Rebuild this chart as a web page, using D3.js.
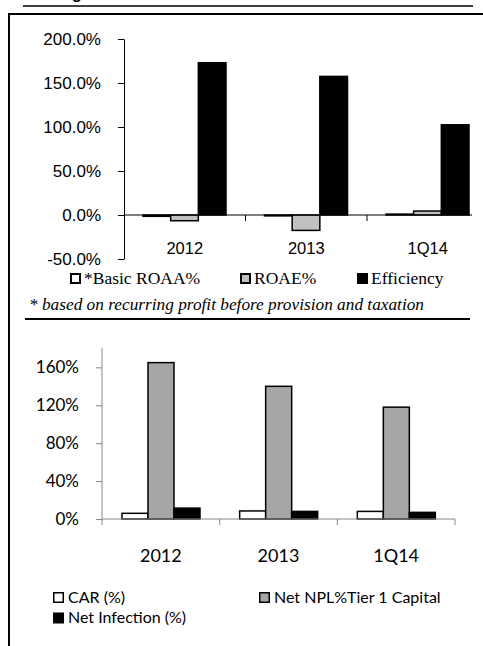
<!DOCTYPE html>
<html>
<head>
<meta charset="utf-8">
<script src="https://cdn.jsdelivr.net/npm/d3@7"></script>
<style>
  body { margin: 0; background: #fff; }
  svg { display: block; }
</style>
</head>
<body>
<svg id="chart" width="483" height="646"></svg>
<script>
// top chart data
var topCategories = ["2012", "2013", "1Q14"];
var topSeries = ["*Basic ROAA%", "ROAE%", "Efficiency"];
var roaa = [-1.5, -1, 1];
var roae = [-6.5, -17.5, 4.5];
var efficiency = [173, 157.5, 102.5];
var topTicks = [-50, 0, 50, 100, 150, 200];

// bottom chart data
var botCategories = ["2012", "2013", "1Q14"];
var botSeries = ["CAR (%)", "Net NPL%Tier 1 Capital", "Net Infection (%)"];
var car = [6, 8.5, 8];
var netNpl = [165, 140, 118];
var netInfection = [11.5, 8, 7];
var botTicks = [0, 40, 80, 120, 160];

var SANS = "'Liberation Sans'";
var SERIF = "'Liberation Serif'";
var CAL = "'Lato'";

var svg = d3.select("#chart");

// frame lines
svg.append("text").attr("x", 72).attr("y", -1)
  .attr("font-family", SANS).attr("font-size", 16).attr("font-weight", "bold").text("g");
svg.append("line").attr("x1", 23).attr("x2", 473).attr("y1", 6).attr("y2", 6)
  .attr("stroke", "#000").attr("stroke-width", 1.5);
svg.append("line").attr("x1", 8).attr("x2", 483).attr("y1", 14).attr("y2", 14)
  .attr("stroke", "#000").attr("stroke-width", 2);
svg.append("line").attr("x1", 9).attr("x2", 9).attr("y1", 13).attr("y2", 646)
  .attr("stroke", "#000").attr("stroke-width", 2);

// ---------- top chart ----------
svg.append("clipPath").attr("id", "topClip")
  .append("rect").attr("x", 0).attr("y", 0).attr("width", 472).attr("height", 300);

var topG = svg.append("g");
var topPlot = topG.append("g").attr("clip-path", "url(#topClip)");

var x0 = d3.scaleBand().domain(topCategories).range([124, 488.5]);
var x1 = d3.scaleBand().domain(topSeries).range([19, 102]);
var y = d3.scaleLinear().domain([-50, 200]).range([259, 39]);

var topFill = { "*Basic ROAA%": "#fff", "ROAE%": "#c0c0c0", "Efficiency": "#000" };
var topData = [];
topCategories.forEach(function (c, i) {
  topData.push({ cat: c, key: topSeries[0], value: roaa[i] });
  topData.push({ cat: c, key: topSeries[1], value: roae[i] });
  topData.push({ cat: c, key: topSeries[2], value: efficiency[i] });
});

topPlot.selectAll("rect.bar")
  .data(topData)
  .enter().append("rect")
  .attr("class", "bar")
  .attr("x", d => x0(d.cat) + x1(d.key))
  .attr("width", x1.bandwidth())
  .attr("y", d => Math.min(y(d.value), y(0)))
  .attr("height", d => Math.abs(y(d.value) - y(0)))
  .attr("fill", d => topFill[d.key])
  .attr("stroke", "#000")
  .attr("stroke-width", 1.5);

// x axis at zero
topPlot.append("line").attr("x1", 124).attr("x2", 488).attr("y1", y(0)).attr("y2", y(0))
  .attr("stroke", "#000").attr("stroke-width", 1);
topPlot.selectAll("line.xtick")
  .data(topCategories.slice(1))
  .enter().append("line")
  .attr("class", "xtick")
  .attr("x1", d => x0(d)).attr("x2", d => x0(d))
  .attr("y1", y(0)).attr("y2", y(0) + 6)
  .attr("stroke", "#000");

var yAxis = topG.append("g")
  .attr("transform", "translate(124,0)")
  .call(d3.axisLeft(y).tickValues(topTicks).tickSize(6).tickSizeOuter(0)
    .tickPadding(17).tickFormat(d => d.toFixed(1) + "%"));
yAxis.attr("font-family", SANS).attr("font-size", 17);
yAxis.select(".domain").attr("stroke", "#000");
yAxis.selectAll("text").attr("fill", "#000");

topG.selectAll("text.xlab")
  .data(topCategories)
  .enter().append("text")
  .attr("class", "xlab")
  .attr("x", d => x0(d) + x0.bandwidth() / 2)
  .attr("y", 254)
  .attr("text-anchor", "middle")
  .attr("font-family", SANS)
  .attr("font-size", 16.5)
  .text(d => d);

// top legend
var topLegX = [70, 240, 357];
var tl = topG.selectAll("g.leg").data(topSeries).enter().append("g")
  .attr("class", "leg")
  .attr("transform", (d, i) => "translate(" + topLegX[i] + ",273)");
tl.append("rect").attr("x", 1).attr("y", 1).attr("width", 9).attr("height", 9)
  .attr("fill", d => topFill[d]).attr("stroke", "#000").attr("stroke-width", 2);
tl.append("text").attr("x", 14).attr("y", 10.5)
  .attr("font-family", SERIF).attr("font-size", 17.5)
  .text(d => d);

topG.append("text").attr("x", 29).attr("y", 310)
  .attr("font-family", SERIF).attr("font-size", 17).attr("font-style", "italic")
  .attr("textLength", 395).attr("lengthAdjust", "spacingAndGlyphs")
  .text("* based on recurring profit before provision and taxation");

svg.append("line").attr("x1", 25).attr("x2", 470).attr("y1", 319).attr("y2", 319)
  .attr("stroke", "#000").attr("stroke-width", 2);

// ---------- bottom chart ----------
var bot = svg.append("g");
var bx0 = d3.scaleBand().domain(botCategories).range([102, 455]);
var bx1 = d3.scaleBand().domain(botSeries).range([20, 98]);
var by = d3.scaleLinear().domain([0, 180]).range([519, 348.4]);

var botFill = { "CAR (%)": "#fff", "Net NPL%Tier 1 Capital": "#a6a6a6", "Net Infection (%)": "#000" };
var botData = [];
botCategories.forEach(function (c, i) {
  botData.push({ cat: c, key: botSeries[0], value: car[i] });
  botData.push({ cat: c, key: botSeries[1], value: netNpl[i] });
  botData.push({ cat: c, key: botSeries[2], value: netInfection[i] });
});

var byAxis = bot.append("g")
  .attr("transform", "translate(102,0)")
  .call(d3.axisLeft(by).tickValues(botTicks).tickSize(6).tickSizeOuter(0)
    .tickPadding(17).tickFormat(d => d + "%"));
byAxis.attr("font-family", CAL).attr("font-size", 17);
byAxis.select(".domain").attr("stroke", "#888").attr("d", "M0,348V519");
byAxis.selectAll("line").attr("stroke", "#888");
byAxis.selectAll("text").attr("fill", "#000");

bot.selectAll("rect.bar")
  .data(botData)
  .enter().append("rect")
  .attr("class", "bar")
  .attr("x", d => bx0(d.cat) + bx1(d.key))
  .attr("width", bx1.bandwidth())
  .attr("y", d => by(d.value))
  .attr("height", d => by(0) - by(d.value))
  .attr("fill", d => botFill[d.key])
  .attr("stroke", "#000")
  .attr("stroke-width", 1.5);

var bxAxis = bot.append("g")
  .attr("transform", "translate(0," + by(0) + ")")
  .call(d3.axisBottom(bx0).tickSize(0).tickFormat(""));
bxAxis.select(".domain").attr("stroke", "#888").attr("d", "M102,0H455");
bot.selectAll("line.bxtick")
  .data(botCategories.concat(["end"]))
  .enter().append("line")
  .attr("class", "bxtick")
  .attr("x1", (d, i) => 102 + i * bx0.bandwidth())
  .attr("x2", (d, i) => 102 + i * bx0.bandwidth())
  .attr("y1", by(0)).attr("y2", by(0) + 6)
  .attr("stroke", "#888");

bot.selectAll("text.xlab")
  .data(botCategories)
  .enter().append("text")
  .attr("class", "xlab")
  .attr("x", d => bx0(d) + bx0.bandwidth() / 2)
  .attr("y", 562)
  .attr("text-anchor", "middle")
  .attr("font-family", CAL)
  .attr("font-size", 18)
  .text(d => d);

// bottom legend
var botLegPos = [[53, 592], [259, 592], [53, 612.5]];
var bl = bot.selectAll("g.leg").data(botSeries).enter().append("g")
  .attr("class", "leg")
  .attr("transform", (d, i) => "translate(" + botLegPos[i][0] + "," + botLegPos[i][1] + ")");
bl.append("rect").attr("x", 0.75).attr("y", 0.75).attr("width", 9.5).attr("height", 9.5)
  .attr("fill", d => botFill[d]).attr("stroke", "#000").attr("stroke-width", 1.5);
bl.append("text").attr("x", 15).attr("y", 10.5)
  .attr("font-family", CAL).attr("font-size", 16)
  .text(d => d);
</script>
</body>
</html>
